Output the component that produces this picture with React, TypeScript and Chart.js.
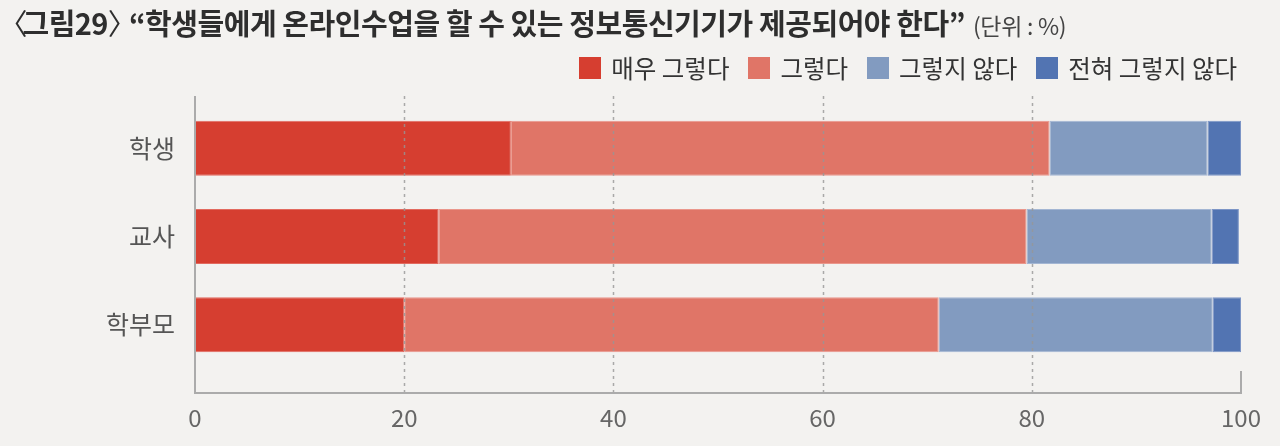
import React, { useEffect, useRef } from "react";
import { Chart, registerables } from "chart.js";

Chart.register(...registerables);

const categories = ["학생", "교사", "학부모"];
const seriesNames = ["매우 그렇다", "그렇다", "그렇지 않다", "전혀 그렇지 않다"];
const stronglyAgree = [30.2, 23.3, 20.0];
const agree = [51.5, 56.2, 51.1];
const disagree = [15.1, 17.7, 26.2];
const stronglyDisagree = [3.2, 2.6, 2.7];
const xTicks = [0, 20, 40, 60, 80, 100];
const seriesColors = ["#D63E30", "#E07567", "#829BC0", "#5274B2"];
const borderColors = ["#E26A5F", "#EA978C", "#A3B6D3", "#7C95C6"];

const titleFigure = "그림29";
const titleQuote = "“학생들에게 온라인수업을 할 수 있는 정보통신기기가 제공되어야 한다”";
const titleUnit = "(단위 : %)";

const FONT = "'Noto Sans CJK KR', 'Noto Sans', sans-serif";

const axisDecor = {
  id: "axisDecor",
  afterDatasetsDraw(chart: any) {
    const { ctx, chartArea, scales } = chart;
    const x = scales.x;
    const top = chartArea.top - 8;
    const bottom = chartArea.bottom + 24;
    ctx.save();
    ctx.strokeStyle = "rgba(150,150,150,0.8)";
    ctx.lineWidth = 1.5;
    ctx.setLineDash([3, 4]);
    xTicks
      .filter((v) => v > xTicks[0] && v < xTicks[xTicks.length - 1])
      .forEach((v) => {
        const px = Math.round(x.getPixelForValue(v)) + 0.5;
        ctx.beginPath();
        ctx.moveTo(px, top);
        ctx.lineTo(px, bottom);
        ctx.stroke();
      });
    ctx.setLineDash([]);
    ctx.strokeStyle = "#ABABAB";
    ctx.lineWidth = 2;
    const x0 = x.getPixelForValue(xTicks[0]);
    const x1 = x.getPixelForValue(xTicks[xTicks.length - 1]);
    ctx.beginPath();
    ctx.moveTo(x0, top);
    ctx.lineTo(x0, bottom);
    ctx.lineTo(x1, bottom);
    ctx.lineTo(x1, bottom - 22);
    ctx.stroke();
    ctx.restore();
  },
};

export default function App() {
  const canvasRef = useRef<HTMLCanvasElement | null>(null);

  useEffect(() => {
    if (!canvasRef.current) return;
    const values = [stronglyAgree, agree, disagree, stronglyDisagree];
    const chart = new Chart(canvasRef.current, {
      type: "bar",
      data: {
        labels: categories,
        datasets: seriesNames.map((name, i) => ({
          label: name,
          data: values[i],
          backgroundColor: seriesColors[i],
          borderColor: borderColors[i],
          borderWidth: 1,
          borderSkipped: false,
          barPercentage: 0.623,
          categoryPercentage: 1,
        })),
      },
      options: {
        indexAxis: "y",
        animation: false,
        responsive: true,
        maintainAspectRatio: false,
        layout: { padding: { top: 104, right: 39, left: 0, bottom: 0 } },
        plugins: {
          legend: { display: false },
          tooltip: { enabled: false },
          title: { display: false },
        },
        scales: {
          x: {
            type: "linear",
            stacked: true,
            min: 0,
            max: 100,
            afterBuildTicks: (scale: any) => {
              scale.ticks = xTicks.map((v) => ({ value: v }));
            },
            afterFit: (scale: any) => {
              scale.height = 77;
              scale.paddingRight = 0;
              scale.paddingLeft = 0;
            },
            grid: { display: false, drawTicks: false },
            border: { display: false },
            ticks: {
              padding: 34,
              color: "#666666",
              font: { family: FONT, size: 24 },
            },
          },
          y: {
            type: "category",
            stacked: true,
            afterFit: (scale: any) => {
              scale.width = 195;
            },
            grid: { display: false, drawTicks: false },
            border: { display: false },
            ticks: {
              padding: 20,
              color: "#555555",
              font: { family: FONT, size: 25 },
            },
          },
        },
      },
      plugins: [axisDecor],
    });
    return () => chart.destroy();
  }, []);

  return (
    <div
      style={{
        position: "fixed",
        left: 0,
        top: 0,
        width: 1280,
        height: 446,
        background: "#F3F2F0",
        fontFamily: FONT,
        overflow: "hidden",
      }}
    >
      <div style={{ position: "absolute", left: 0, top: 0, width: 1280, height: 446 }}>
        <canvas ref={canvasRef} />
      </div>
      <div
        style={{
          position: "absolute",
          left: 13,
          top: 6,
          whiteSpace: "nowrap",
          lineHeight: "32px",
          color: "#2E2E2E",
        }}
      >
        <span style={{ fontWeight: 400, fontSize: 29, marginLeft: "-0.5em", marginRight: "-0.17em" }}>〈</span>
        <span style={{ fontWeight: 700, fontSize: 29, letterSpacing: -0.6 }}>{titleFigure}</span>
        <span style={{ fontWeight: 400, fontSize: 29, marginRight: "-0.48em" }}>〉</span>
        <span style={{ fontWeight: 700, fontSize: 29, letterSpacing: -0.45, marginLeft: 6 }}>{titleQuote}</span>
        <span style={{ fontSize: 23, color: "#444444", marginLeft: 8, letterSpacing: -0.3 }}>{titleUnit}</span>
      </div>
      <div
        style={{
          position: "absolute",
          right: 43,
          top: 52,
          display: "flex",
          alignItems: "center",
          gap: 19,
          whiteSpace: "nowrap",
        }}
      >
        {seriesNames.map((name, i) => (
          <div key={name} style={{ display: "flex", alignItems: "center" }}>
            <span
              style={{
                display: "inline-block",
                width: 22,
                height: 22,
                background: seriesColors[i],
                marginRight: 10,
              }}
            />
            <span style={{ fontSize: 24.5, color: "#333333", lineHeight: "32px" }}>{name}</span>
          </div>
        ))}
      </div>
    </div>
  );
}
